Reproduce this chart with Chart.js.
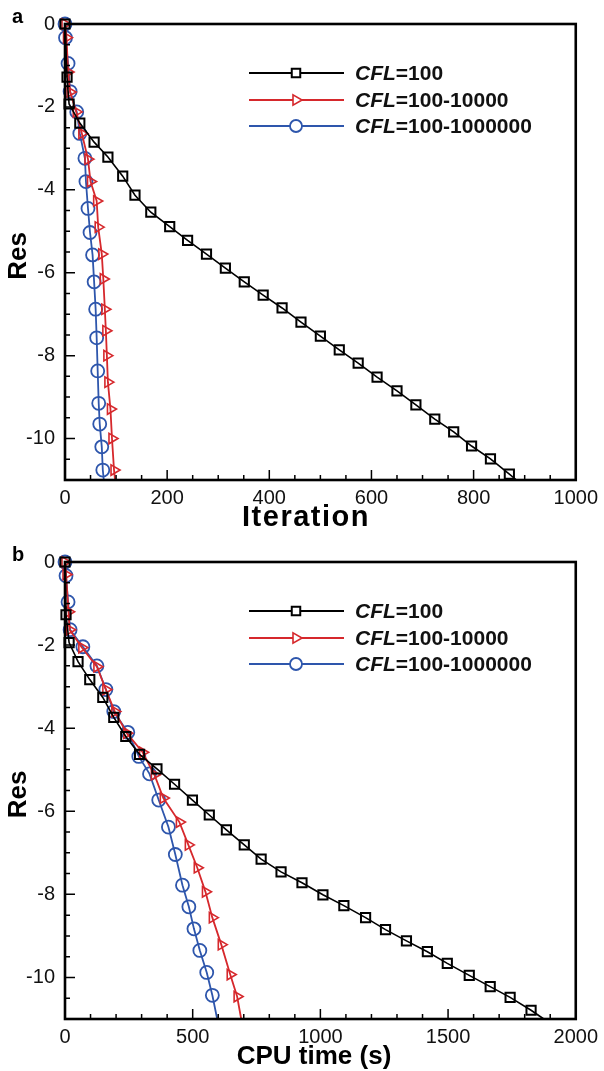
<!DOCTYPE html>
<html lang="en">
<head>
    <meta charset="UTF-8">
    <title>Residual convergence</title>
    <script src="https://cdn.jsdelivr.net/npm/chart.js"></script>
    <style>
        body { margin: 0; background: #fff; }
        .panel { position: relative; width: 604px; }
        #wrapA { height: 535px; }
        #wrapB { height: 536px; }
    </style>
</head>
<body>
    <div class="panel" id="wrapA"><canvas id="chartA"></canvas></div>
    <div class="panel" id="wrapB"><canvas id="chartB"></canvas></div>

    <script>
        // ---- data ----
        // (a) residual vs iteration
        const a100Iter = [0, 4, 8, 29, 57, 84, 113, 137, 168, 205, 240, 277, 314, 351, 388, 425, 462, 500, 537, 574, 611, 650, 687, 724, 761, 796, 833, 870, 884];
        const a100Res  = [0, -1.28, -1.93, -2.39, -2.85, -3.21, -3.67, -4.13, -4.54, -4.89, -5.22, -5.55, -5.89, -6.22, -6.54, -6.85, -7.19, -7.53, -7.86, -8.18, -8.52, -8.85, -9.19, -9.53, -9.84, -10.18, -10.49, -10.86, -11];
        const a10kIter = [0, 3, 6, 10, 22, 33, 45, 50, 62, 65, 72, 75, 78, 80, 82, 84, 89, 92, 96, 98];
        const a10kRes  = [0, -0.33, -1.16, -1.64, -2.12, -2.64, -3.26, -3.8, -4.27, -4.9, -5.55, -6.15, -6.88, -7.4, -8.0, -8.64, -9.29, -10.0, -10.76, -11];
        const a1mIter  = [0, 1, 6, 10, 23, 29, 39, 41, 45, 49, 54, 57, 60, 62, 64, 66, 68, 72, 74, 76];
        const a1mRes   = [0, -0.33, -0.95, -1.63, -2.12, -2.64, -3.24, -3.8, -4.45, -5.03, -5.57, -6.22, -6.88, -7.57, -8.37, -9.15, -9.65, -10.2, -10.76, -11];

        // (b) residual vs CPU time
        const b100Time = [0, 4, 16, 51, 97, 148, 191, 238, 292, 360, 429, 499, 565, 632, 702, 768, 846, 928, 1010, 1092, 1177, 1255, 1337, 1419, 1497, 1583, 1665, 1743, 1825, 1875];
        const b100Res  = [0, -1.27, -1.94, -2.4, -2.83, -3.26, -3.74, -4.2, -4.63, -4.98, -5.35, -5.73, -6.09, -6.45, -6.81, -7.15, -7.46, -7.72, -8.01, -8.27, -8.56, -8.85, -9.12, -9.38, -9.66, -9.95, -10.22, -10.48, -10.79, -11];
        const b10kTime = [0, 4, 14, 18, 66, 125, 160, 195, 242, 304, 350, 385, 448, 483, 518, 550, 577, 612, 647, 674, 690];
        const b10kRes  = [0, -0.3, -1.2, -1.63, -2.06, -2.52, -3.07, -3.6, -4.12, -4.58, -5.12, -5.68, -6.26, -6.81, -7.36, -7.94, -8.56, -9.21, -9.93, -10.46, -11];
        const b1mTime  = [0, 4, 12, 20, 70, 125, 160, 191, 246, 289, 331, 367, 405, 432, 460, 485, 505, 528, 555, 577, 596];
        const b1mRes   = [0, -0.33, -0.96, -1.63, -2.04, -2.5, -3.07, -3.6, -4.1, -4.68, -5.1, -5.73, -6.38, -7.04, -7.78, -8.3, -8.83, -9.35, -9.88, -10.43, -11];

        const legendNames = ['=100', '=100-10000', '=100-1000000'];
        const yTicks  = [0, -2, -4, -6, -8, -10];
        const xTicksA = [0, 200, 400, 600, 800, 1000];
        const xTicksB = [0, 500, 1000, 1500, 2000];

        const FONT = '"Liberation Sans", Arial, Helvetica, sans-serif';
        const BLACK = '#000000';
        const RED = 'rgb(214, 40, 44)';
        const BLUE = 'rgb(46, 86, 172)';

        const styles = [
            { color: BLACK, pointStyle: 'rect', radius: 6.5, rotation: 0, borderWidth: 2 },
            { color: RED, pointStyle: 'triangle', radius: 6, rotation: 90, borderWidth: 1.6 },
            { color: BLUE, pointStyle: 'circle', radius: 6.5, rotation: 0, borderWidth: 1.8 }
        ];

        function toPoints(xs, ys) {
            return xs.map((v, i) => ({ x: v, y: ys[i] }));
        }

        function makeDataset(xs, ys, k) {
            const s = styles[k];
            const last = xs.length - 1; // last point is where the line meets the axis, no marker
            return {
                data: toPoints(xs, ys),
                showLine: true,
                borderColor: s.color,
                borderWidth: k === 0 ? 1.6 : 1.8,
                pointStyle: s.pointStyle,
                pointRotation: s.rotation,
                pointRadius: ctx => ctx.dataIndex === last ? 0 : s.radius,
                pointBorderColor: s.color,
                pointBackgroundColor: 'rgba(0,0,0,0)',
                pointBorderWidth: s.borderWidth,
                clip: false
            };
        }

        // frame, inward ticks, axis titles, panel letter and legend
        const decorPlugin = {
            id: 'decor',
            afterDraw(chart, args, opts) {
                const { ctx, chartArea: a, scales: { x, y } } = chart;
                ctx.save();
                ctx.strokeStyle = '#000';
                ctx.lineWidth = 1.5;
                ctx.beginPath();
                const nx = Math.round((x.max - x.min) / opts.xMinor);
                for (let i = 0; i <= nx; i++) {
                    const v = x.min + i * opts.xMinor;
                    const px = x.getPixelForValue(v);
                    const len = opts.xMajor.includes(v) ? 10 : 5;
                    ctx.moveTo(px, a.bottom);
                    ctx.lineTo(px, a.bottom - len);
                }
                for (let i = 0; i <= 22; i++) {
                    const v = -i * 0.5;
                    const py = y.getPixelForValue(v);
                    const len = yTicks.includes(v) ? 10 : 5;
                    ctx.moveTo(a.left, py);
                    ctx.lineTo(a.left + len, py);
                }
                ctx.stroke();

                ctx.lineWidth = 2.6;
                ctx.strokeRect(a.left, a.top, a.right - a.left, a.bottom - a.top);

                ctx.fillStyle = '#000';
                // panel letter
                ctx.font = 'bold 20px ' + FONT;
                ctx.textAlign = 'left';
                ctx.textBaseline = 'alphabetic';
                ctx.fillText(opts.letter, 12, a.top - 1);

                // axis titles
                ctx.font = 'bold ' + opts.xTitleSize + 'px ' + FONT;
                ctx.textAlign = 'center';
                ctx.textBaseline = 'middle';
                ctx.letterSpacing = opts.xTitleSpacing;
                ctx.fillText(opts.xTitle, opts.xTitleX, a.bottom + 38);
                ctx.letterSpacing = '0px';
                ctx.font = 'bold 26px ' + FONT;
                ctx.save();
                ctx.translate(19, (a.top + a.bottom) / 2 + 4);
                ctx.rotate(-Math.PI / 2);
                ctx.fillText('Res', 0, 0);
                ctx.restore();

                // legend
                const rows = [49, 76, 102];
                legendNames.forEach((name, k) => {
                    const s = styles[k];
                    const ry = a.top + rows[k];
                    ctx.strokeStyle = s.color;
                    ctx.lineWidth = 1.8;
                    ctx.beginPath();
                    ctx.moveTo(249, ry);
                    ctx.lineTo(344, ry);
                    ctx.stroke();
                    ctx.lineWidth = s.borderWidth;
                    ctx.fillStyle = '#ffffff';
                    Chart.helpers.drawPoint(ctx, {
                        pointStyle: s.pointStyle,
                        rotation: s.rotation,
                        radius: 6,
                        borderWidth: s.borderWidth
                    }, 296, ry);

                    ctx.fillStyle = '#111';
                    ctx.textAlign = 'left';
                    ctx.textBaseline = 'middle';
                    ctx.font = 'italic bold 21px ' + FONT;
                    ctx.fillText('CFL', 355, ry + 1);
                    const w = ctx.measureText('CFL').width;
                    ctx.font = 'bold 21px ' + FONT;
                    ctx.fillText(name, 355 + w, ry + 1);
                });
                ctx.restore();
            }
        };

        function makeChart(id, datasets, xMax, xTicks, xMinor, xAxisHeight, padTop, letter, xTitle, xTitleX, xTitleSize, xTitleSpacing) {
            return new Chart(document.getElementById(id), {
                type: 'scatter',
                data: { datasets: datasets },
                plugins: [decorPlugin],
                options: {
                    responsive: true,
                    maintainAspectRatio: false,
                    animation: false,
                    layout: { padding: { top: padTop, right: 26, left: 0, bottom: 0 } },
                    plugins: {
                        legend: { display: false },
                        tooltip: { enabled: false },
                        decor: {
                            xMinor: xMinor, xMajor: xTicks, letter: letter,
                            xTitle: xTitle, xTitleX: xTitleX, xTitleSize: xTitleSize, xTitleSpacing: xTitleSpacing
                        }
                    },
                    scales: {
                        x: {
                            type: 'linear',
                            min: 0,
                            max: xMax,
                            afterBuildTicks: s => { s.ticks = xTicks.map(v => ({ value: v })); },
                            afterFit: s => { s.height = xAxisHeight; },
                            grid: { display: false, drawTicks: false },
                            border: { display: false },
                            ticks: {
                                autoSkip: false,
                                maxRotation: 0,
                                padding: 6,
                                color: '#111',
                                font: { family: FONT, size: 20 },
                                callback: v => String(v)
                            }
                        },
                        y: {
                            min: -11,
                            max: 0,
                            afterBuildTicks: s => { s.ticks = yTicks.map(v => ({ value: v })); },
                            afterFit: s => { s.width = 65; },
                            grid: { display: false, drawTicks: false },
                            border: { display: false },
                            ticks: {
                                padding: 10,
                                color: '#111',
                                font: { family: FONT, size: 20 },
                                callback: v => String(v)
                            }
                        }
                    }
                }
            });
        }

        makeChart('chartA', [
            makeDataset(a100Iter, a100Res, 0),
            makeDataset(a10kIter, a10kRes, 1),
            makeDataset(a1mIter, a1mRes, 2)
        ], 1000, xTicksA, 50, 55, 24, 'a', 'Iteration', 306, 29, '1.5px');

        makeChart('chartB', [
            makeDataset(b100Time, b100Res, 0),
            makeDataset(b10kTime, b10kRes, 1),
            makeDataset(b1mTime, b1mRes, 2)
        ], 2000, xTicksB, 100, 52, 27, 'b', 'CPU time (s)', 314, 26, '0px');
    </script>
</body>
</html>
